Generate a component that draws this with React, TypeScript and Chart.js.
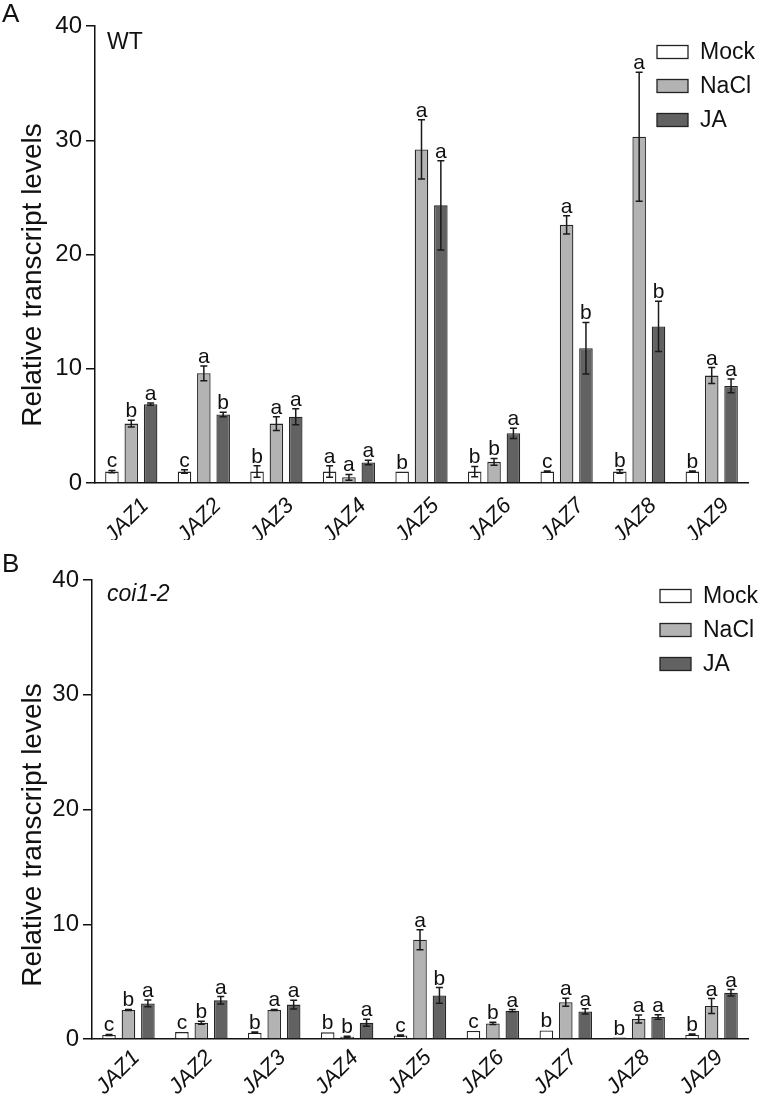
import React, { useEffect, useRef } from 'react';
import { Chart, registerables } from 'chart.js';
Chart.register(...registerables);

const genes = ['JAZ1', 'JAZ2', 'JAZ3', 'JAZ4', 'JAZ5', 'JAZ6', 'JAZ7', 'JAZ8', 'JAZ9'];
const seriesNames = ['Mock', 'NaCl', 'JA'];
const yTicks = [0, 10, 20, 30, 40];

// Panel A (WT)
const wtMock = [1.0, 1.0, 1.0, 1.0, 1.0, 1.0, 1.0, 1.0, 1.0];
const wtMockErr = [0.1, 0.15, 0.5, 0.5, 0, 0.45, 0.05, 0.15, 0.05];
const wtNaCl = [5.2, 9.6, 5.2, 0.5, 29.2, 1.85, 22.6, 30.3, 9.4];
const wtNaClErr = [0.3, 0.65, 0.6, 0.25, 2.6, 0.3, 0.8, 5.65, 0.7];
const wtJA = [6.9, 6.0, 5.8, 1.8, 24.3, 4.35, 11.8, 13.7, 8.5];
const wtJAErr = [0.1, 0.2, 0.7, 0.2, 3.9, 0.45, 2.25, 2.2, 0.6];
const wtMockLetters = ['c', 'c', 'b', 'a', 'b', 'b', 'c', 'b', 'b'];
const wtNaClLetters = ['b', 'a', 'a', 'a', 'a', 'b', 'a', 'a', 'a'];
const wtJALetters = ['a', 'b', 'a', 'a', 'a', 'a', 'b', 'b', 'a'];

// Panel B (coi1-2)
const coiMock = [0.35, 0.6, 0.55, 0.58, 0.3, 0.7, 0.75, 0.12, 0.38];
const coiMockErr = [0.05, 0, 0.05, 0, 0.05, 0, 0, 0, 0.05];
const coiNaCl = [2.53, 1.42, 2.53, 0.2, 8.65, 1.36, 3.2, 1.74, 2.87];
const coiNaClErr = [0.05, 0.13, 0.05, 0.05, 0.87, 0.1, 0.35, 0.35, 0.65];
const coiJA = [3.1, 3.37, 3.0, 1.42, 3.8, 2.47, 2.4, 1.92, 4.03];
const coiJAErr = [0.3, 0.33, 0.38, 0.3, 0.68, 0.1, 0.23, 0.2, 0.28];
const coiMockLetters = ['c', 'c', 'b', 'b', 'c', 'c', 'b', 'b', 'b'];
const coiNaClLetters = ['b', 'b', 'a', 'b', 'a', 'b', 'a', 'a', 'a'];
const coiJALetters = ['a', 'a', 'a', 'a', 'b', 'a', 'a', 'a', 'a'];

const colors = ['#ffffff', '#b3b3b3', '#626262'];
const FONT = "'Liberation Sans', Arial, sans-serif";

type PanelProps = {
  top: number;
  height: number;
  values: number[][];
  errs: number[][];
  letters: string[][];
  panelLabel: string;
  strain: string;
  strainItalic: boolean;
  yWidth: number;
  xHeight: number;
  padTop: number;
  titleY: number;
  labelY: number;
  strainY: number;
  legendY: number;
  legendX: number;
  labelShift: number;
  labelPad: number;
};

function Panel(p: PanelProps) {
  const ref = useRef<HTMLCanvasElement>(null);
  useEffect(() => {
    const canvas = ref.current!;
    const deco = {
      id: 'deco',
      afterDatasetsDraw(chart: any) {
        const ctx = chart.ctx;
        const ys = chart.scales.y;
        ctx.save();
        chart.data.datasets.forEach((ds: any, di: number) => {
          const meta = chart.getDatasetMeta(di);
          meta.data.forEach((el: any, i: number) => {
            const v = p.values[di][i];
            const e = p.errs[di][i];
            const x = el.x;
            const yT = ys.getPixelForValue(v + e);
            const yB = ys.getPixelForValue(v - e);
            if (e > 0) {
              ctx.strokeStyle = '#1a1a1a';
              ctx.lineWidth = 1.5;
              ctx.beginPath();
              ctx.moveTo(x, yT);
              ctx.lineTo(x, yB);
              ctx.moveTo(x - 3.5, yT);
              ctx.lineTo(x + 3.5, yT);
              ctx.moveTo(x - 3.5, yB);
              ctx.lineTo(x + 3.5, yB);
              ctx.stroke();
            }
            ctx.fillStyle = '#111';
            ctx.font = `21px ${FONT}`;
            ctx.textAlign = 'center';
            ctx.textBaseline = 'alphabetic';
            ctx.fillText(p.letters[di][i], x, Math.min(yT, el.y) - 3);
          });
        });
        // legend
        seriesNames.forEach((name, i) => {
          const cy = p.legendY + i * 34;
          ctx.fillStyle = colors[i];
          ctx.fillRect(p.legendX, cy - 6.5, 31, 13);
          ctx.strokeStyle = '#222';
          ctx.lineWidth = 1.3;
          ctx.strokeRect(p.legendX, cy - 6.5, 31, 13);
          ctx.fillStyle = '#111';
          ctx.font = `23px ${FONT}`;
          ctx.textAlign = 'left';
          ctx.textBaseline = 'middle';
          ctx.fillText(name, p.legendX + 43, cy + 1);
        });
        // strain label
        ctx.font = `${p.strainItalic ? 'italic ' : ''}23px ${FONT}`;
        ctx.textAlign = 'left';
        ctx.textBaseline = 'middle';
        ctx.fillText(p.strain, 107, p.strainY);
        // panel label
        ctx.font = `26px ${FONT}`;
        ctx.fillText(p.panelLabel, 2, p.labelY);
        // y title
        ctx.translate(33, p.titleY);
        ctx.rotate(-Math.PI / 2);
        ctx.font = `28px ${FONT}`;
        ctx.textAlign = 'center';
        ctx.fillText('Relative transcript levels', 0, 0);
        ctx.restore();
      },
    };
    const chart = new Chart(canvas, {
      type: 'bar',
      data: {
        labels: genes,
        datasets: seriesNames.map((name, i) => ({
          label: name,
          data: p.values[i],
          backgroundColor: colors[i],
          borderColor: '#262626',
          borderWidth: 1.3,
          barPercentage: 0.7,
          categoryPercentage: 0.8,
        })),
      },
      options: {
        responsive: false,
        animation: false,
        events: [],
        layout: { padding: { top: p.padTop, right: 12, bottom: 0, left: 0 } },
        plugins: { legend: { display: false }, tooltip: { enabled: false } },
        scales: {
          x: {
            grid: { display: false, drawTicks: false },
            border: { display: true, color: '#111', width: 1.5 },
            ticks: {
              color: '#111',
              font: { family: FONT, size: 22, style: 'italic' },
              maxRotation: 45,
              minRotation: 45,
              padding: p.labelPad,
              labelOffset: p.labelShift,
              autoSkip: false,
            },
            afterFit: (s: any) => { s.height = p.xHeight; },
          },
          y: {
            min: 0,
            max: 40,
            afterBuildTicks: (s: any) => { s.ticks = yTicks.map((v) => ({ value: v })); },
            grid: { drawOnChartArea: false, drawTicks: true, tickLength: 9, color: '#111', lineWidth: 1.5 },
            border: { display: true, color: '#111', width: 1.5 },
            ticks: { color: '#111', font: { family: FONT, size: 24 }, padding: 4 },
            afterFit: (s: any) => { s.width = p.yWidth; },
          },
        },
      },
      plugins: [deco],
    } as any);
    return () => chart.destroy();
  }, []);
  return (
    <canvas
      ref={ref}
      width={760}
      height={p.height}
      style={{ position: 'absolute', left: 0, top: p.top, width: 760, height: p.height }}
    />
  );
}

export default function App() {
  return (
    <div style={{ position: 'absolute', left: 0, top: 0, width: 760, height: 1096, background: '#fff' }}>
      <Panel
        top={0}
        height={540}
        values={[wtMock, wtNaCl, wtJA]}
        errs={[wtMockErr, wtNaClErr, wtJAErr]}
        letters={[wtMockLetters, wtNaClLetters, wtJALetters]}
        panelLabel="A"
        strain="WT"
        strainItalic={false}
        yWidth={95}
        xHeight={57}
        padTop={26}
        titleY={275}
        labelY={15}
        strainY={43}
        legendY={52}
        legendX={657}
        labelShift={14}
        labelPad={10}
      />
      <Panel
        top={540}
        height={556}
        values={[coiMock, coiNaCl, coiJA]}
        errs={[coiMockErr, coiNaClErr, coiJAErr]}
        letters={[coiMockLetters, coiNaClLetters, coiJALetters]}
        panelLabel="B"
        strain="coi1-2"
        strainItalic={true}
        yWidth={92}
        xHeight={57}
        padTop={40}
        titleY={295}
        labelY={25}
        strainY={55}
        legendY={56}
        legendX={660}
        labelShift={8}
        labelPad={6}
      />
    </div>
  );
}
